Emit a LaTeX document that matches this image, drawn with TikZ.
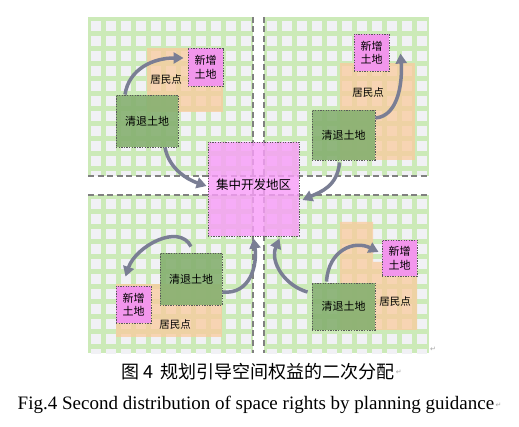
\documentclass[tikz,border=0pt]{standalone}
\usepackage{fontspec}
\setmainfont{Liberation Serif}
\newfontfamily\cjk{Noto Sans CJK SC}
\newfontfamily\marksfont{DejaVu Sans}
\usetikzlibrary{arrows.meta}
\definecolor{lgreen}{RGB}{204,234,184}
\definecolor{lcell}{RGB}{241,241,245}
\definecolor{lorange}{RGB}{250,203,158}
\definecolor{lpink}{RGB}{242,150,236}
\definecolor{lhub}{RGB}{248,158,248}
\definecolor{lclear}{RGB}{134,176,112}
\definecolor{larrow}{RGB}{122,126,148}
\definecolor{lroad}{RGB}{128,128,128}
\definecolor{ledge}{RGB}{90,90,90}
\tikzset{
  newbox/.style={draw=ledge, line width=0.9pt, dash pattern=on 1.3pt off 1.3pt,
                 fill=lpink, inner sep=0pt, align=center,
                 font=\cjk\fontsize{11}{13.5}\selectfont},
  clearbox/.style={draw=ledge, line width=0.9pt, dash pattern=on 1.3pt off 1.3pt,
                   fill=lclear, fill opacity=0.9, text opacity=1, inner sep=0pt,
                   font=\cjk\fontsize{11}{13}\selectfont},
  hubbox/.style={draw=ledge, line width=0.9pt, dash pattern=on 1.3pt off 1.3pt,
                 fill=lhub, fill opacity=0.82, text opacity=1, inner sep=0pt,
                 font=\cjk\fontsize{12.5}{14}\selectfont},
  townlbl/.style={inner sep=0pt, font=\cjk\fontsize{10.5}{12}\selectfont},
  town/.style={fill=lorange, fill opacity=0.75},
  road/.style={lroad, line width=1.5pt, dash pattern=on 6pt off 3.5pt},
  flow/.style={-{Triangle[length=10pt,width=11pt]}, line width=3.5pt, larrow},
  pmark/.style={inner sep=0pt, gray!70, font=\marksfont\fontsize{7}{8}\selectfont},
}

\begin{document}
\begin{tikzpicture}[x=1pt, y=-1pt]
    \fill[white] (0,0) rectangle (519,427);
    \useasboundingbox (0,0) rectangle (519,427);

    % land grid, four blocks
    \foreach \xa/\ya/\xb/\yb in {88/17/253/176, 264/17/429/176, 88/195/253/353, 264/195/429/353} {
      \begin{scope}
        \clip (\xa,\ya) rectangle (\xb,\yb);
        \fill[lgreen] (\xa,\ya) rectangle (\xb,\yb);
        \foreach \i in {0,...,11}
          \foreach \j in {0,...,10}
            \fill[lcell] ({\xa+3+15*\i},{\ya+4+15*\j}) rectangle ++(10,10);
      \end{scope}
    }

    % roads
    \draw[road] (88,176) -- (429,176);
    \draw[road] (88,195) -- (429,195);
    \draw[road] (253,17) -- (253,353);
    \draw[road] (264,17) -- (264,353);

    % settlements
    \fill[town] (147,48) rectangle (223,112);
    \fill[town] (340,63) rectangle (415,160);
    \fill[town] (116,284) rectangle (222,337);
    \fill[town] (340,222) -- (373,222) -- (373,262) -- (417,262) -- (417,330) -- (340,330) -- cycle;

    \node[hubbox, minimum width=91pt, minimum height=94pt] (hub) at (253.5,189) {};
    \node[inner sep=0pt, font=\cjk\fontsize{12.5}{14}\selectfont] (hubtxt) at (253.5,185) {集中开发地区};

    % top left
    \node[newbox, minimum width=35pt, minimum height=38pt] (new1) at (205.5,67) {新增\\土地};
    \node[townlbl] (town1) at (166,80) {居民点};
    \node[clearbox, minimum width=62pt, minimum height=52pt] (clr1) at (147,121) {清退土地};

    % top right
    \node[newbox, minimum width=35pt, minimum height=37pt] (new2) at (371.5,52.5) {新增\\土地};
    \node[townlbl] (town2) at (368,93) {居民点};
    \node[clearbox, minimum width=63pt, minimum height=50pt] (clr2) at (343.5,135) {清退土地};

    % bottom left
    \node[newbox, minimum width=35pt, minimum height=37pt] (new3) at (133.5,304.5) {新增\\土地};
    \node[townlbl] (town3) at (175,325) {居民点};
    \node[clearbox, minimum width=62pt, minimum height=52pt] (clr3) at (191,279) {清退土地};

    % bottom right
    \node[newbox, minimum width=35pt, minimum height=36pt] (new4) at (399.5,258) {新增\\土地};
    \node[townlbl] (town4) at (395,302) {居民点};
    \node[clearbox, minimum width=63pt, minimum height=47pt] (clr4) at (343.5,306.5) {清退土地};

    % arrows
    \draw[flow] ([xshift=-22pt]clr1.north) .. controls +(4,-26) and +(-30,0) .. ([xshift=-4pt,yshift=9pt]new1.west);
    \draw[flow] ([xshift=18pt]clr1.south) .. controls +(4,22) and +(-18,-6) .. ([xshift=-1pt,yshift=3pt]hub.west);
    \draw[flow] ([yshift=17pt]clr2.east) .. controls +(24,-2) and +(2,26) .. ([xshift=11pt,yshift=-1pt]new2.east);
    \draw[flow] ([xshift=-4pt,yshift=-2pt]clr2.south) .. controls +(-2,24) and +(18,-8) .. ([xshift=3pt,yshift=-11pt]hub.east);
    \draw[flow] ([yshift=6pt]clr3.north) .. controls +(-12,-24) and +(10,-30) .. ([xshift=-8pt,yshift=9pt]new3.north);
    \draw[flow] ([yshift=-13pt]clr3.east) .. controls +(28,3) and +(4,26) .. ([yshift=-2pt]hub.south);
    \draw[flow] ([xshift=-17pt,yshift=1pt]clr4.north) .. controls +(2,-32) and +(-24,-12) .. ([xshift=-3pt,yshift=6pt]new4.west);
    \draw[flow] ([xshift=-4pt,yshift=14.5pt]clr4.west) .. controls +(-22,-6) and +(-10,24) .. ([xshift=26pt,yshift=-2pt]hub.south);

    % captions
    \node[inner sep=0pt, font=\cjk\fontsize{18}{21}\selectfont] (cap1) at (258,372) {图 4\hspace{7pt}规划引导空间权益的二次分配};
    \node[inner sep=0pt, font=\fontsize{19}{22}\selectfont] (cap2) at (256,405) {Fig.4 Second distribution of space rights by planning guidance};
    \node[pmark] (pm0) at (433,349) {↵};
    \node[pmark, anchor=west] (pm1) at ([xshift=1pt]cap1.east) {↵};
    \node[pmark, anchor=west] (pm2) at ([xshift=1pt]cap2.east) {↵};
\end{tikzpicture}
\end{document}
